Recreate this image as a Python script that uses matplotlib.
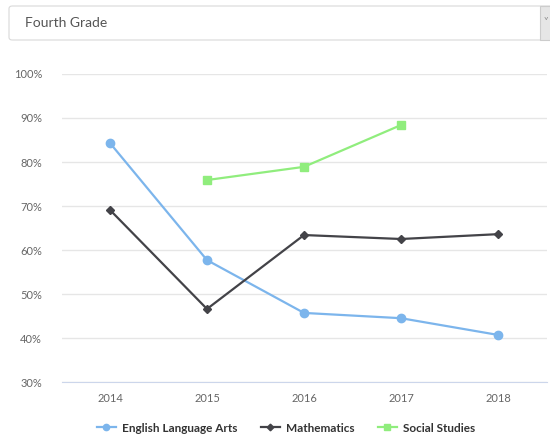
import matplotlib
matplotlib.use("Agg")
from matplotlib import pyplot as plt
from matplotlib.patches import FancyBboxPatch, Rectangle
import numpy as np

years = ["2014", "2015", "2016", "2017", "2018"]
ela = [84.3, 57.7, 45.7, 44.5, 40.7]
math = [69.1, 46.6, 63.4, 62.5, 63.6]
social = [None, 75.9, 78.9, 88.4, None]
yticks = [30, 40, 50, 60, 70, 80, 90, 100]

plt.rcParams['font.family'] = ['Lato', 'DejaVu Sans']

fig = plt.figure(figsize=(5.5, 4.4), dpi=100)
W, H = 550, 440

# dropdown box at the top, running off the right edge
box = FancyBboxPatch((9 / W, 1 - 40 / H), 560 / W, 34 / H,
                     boxstyle="round,pad=0,rounding_size=0.006",
                     transform=fig.transFigure, facecolor="white",
                     edgecolor="#d9d9d9", linewidth=0.8)
fig.patches.append(box)
fig.patches.append(Rectangle((540 / W, 1 - 40 / H), 20 / W, 34 / H,
                             transform=fig.transFigure, facecolor="#e6e6e6",
                             edgecolor="#cccccc", linewidth=0.8))
fig.text(25 / W, 1 - 23 / H, "Fourth Grade", fontsize=10, color="#555555",
         va="center", ha="left")
fig.text(546 / W, 1 - 22 / H, "\u02c5", fontsize=7, color="#888888",
         va="center", ha="center")

ax = fig.add_axes([61.5 / W, 1 - 382 / H, 485 / W, 308 / H])
x = np.arange(len(years))

ax.plot(x, ela, color="#7cb5ec", marker="o", markersize=6, linewidth=1.6,
        label="English Language Arts")
ax.plot(x, math, color="#434348", marker="D", markersize=4.5, linewidth=1.6,
        label="Mathematics")
ss = np.array([np.nan if v is None else v for v in social])
ax.plot(x, ss, color="#90ed7d", marker="s", markersize=6, linewidth=1.6,
        label="Social Studies")

ax.set_xlim(-0.5, len(years) - 0.5)
ax.set_ylim(30, 100)
ax.set_yticks(yticks)
ax.set_yticklabels([f"{v}%" for v in yticks])
ax.set_xticks(x)
ax.set_xticklabels(years)
ax.grid(axis="y", color="#e6e6e6", linewidth=1)
ax.set_axisbelow(True)
for side in ["top", "right", "left"]:
    ax.spines[side].set_visible(False)
ax.spines["bottom"].set_color("#ccd6eb")
ax.tick_params(axis="both", length=0, labelsize=8, colors="#666666")
ax.tick_params(axis="y", pad=14)
ax.tick_params(axis="x", pad=8)

leg = fig.legend(loc="center", bbox_to_anchor=(0.52, 1 - 428 / H), ncol=3,
                 frameon=False, fontsize=8.5, handlelength=1.6,
                 columnspacing=2.0, handletextpad=0.5, markerscale=0.75)
for t in leg.get_texts():
    t.set_fontweight("bold")
    t.set_color("#333333")

fig.savefig("out.png", dpi=100)
